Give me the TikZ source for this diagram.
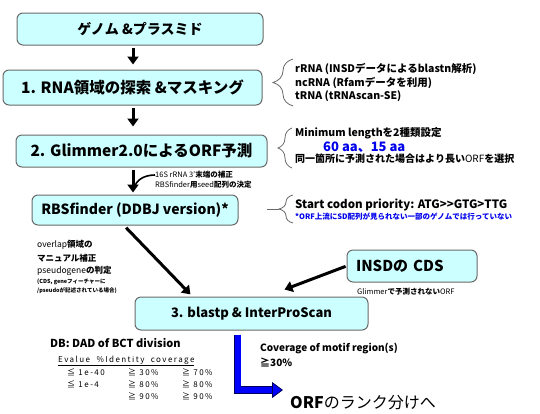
\documentclass[tikz,border=0pt]{standalone}
\usepackage{fontspec}
\setmainfont{Noto Sans CJK JP}
\usetikzlibrary{arrows.meta,decorations.pathreplacing,calc}
\definecolor{boxfill}{RGB}{204,255,255}
\definecolor{boxline}{RGB}{105,105,105}
\definecolor{notecol}{RGB}{0,0,235}
\newcommand{\fs}[1]{\fontsize{#1}{#1}\selectfont}
\tikzset{
  stepbox/.style={draw=boxline, line width=1pt, fill=boxfill, rounded corners=6pt, inner sep=2pt},
  arr/.style={-{Triangle[length=8pt,width=11pt]}, line width=3pt},
  bluearr/.style={draw=blue!35!black, line width=0.8pt, double=blue, double distance=6pt,
    -{Triangle[length=11pt,width=16pt,fill=blue]}},
  br/.style={decorate, decoration={brace, amplitude=#1}, draw=boxline, line width=0.8pt},
  note/.style={anchor=west, inner sep=0pt, align=left},
  tabtext/.style={note, font=\fs{8}\addfontfeature{LetterSpace=18}}
}

\begin{document}
\begin{tikzpicture}[x=1pt,y=-1pt]
\useasboundingbox (0,0) rectangle (540,413);

% Main steps
\node[stepbox, minimum width=246pt, minimum height=32pt, font=\fs{14}\bfseries] (genome) at (140,29) {ゲノム \&プラスミド};
\node[stepbox, minimum width=259pt, minimum height=35pt, font=\fs{15.5}\bfseries] (rna) at (132.5,87.5) {1. RNA領域の探索 \&マスキング};
\node[stepbox, minimum width=251pt, minimum height=32pt, font=\fs{15.5}\bfseries] (glim) at (141.5,151) {2. Glimmer2.0によるORF予測};
\node[stepbox, minimum width=206pt, minimum height=30pt, font=\fs{14}\bfseries] (rbs) at (135,210) {RBSfinder (DDBJ version)*};
\node[stepbox, minimum width=233pt, minimum height=33pt, font=\fs{13}\bfseries] (blast) at (251.5,313.5) {3. blastp \& InterProScan};
\node[stepbox, minimum width=130pt, minimum height=32pt, text width=112pt, align=left, font=\fs{15}\bfseries] (insd) at (412,266) {INSDの CDS};

% Down arrows
\coordinate (ax) at (133,0);
\draw[arr, shorten <=2pt, shorten >=5pt] (genome.south -| ax) -- (rna.north -| ax);
\draw[arr, shorten <=2pt, shorten >=8pt] (rna.south -| ax) -- (glim.north -| ax);
\draw[arr, shorten <=2pt, shorten >=2pt] (glim.south -| ax) -- (rbs.north -| ax);
\draw[arr, shorten <=3pt, shorten >=3pt] ([xshift=-11pt]rbs.south) -- ([xshift=-59pt]blast.north);
\draw[arr, shorten <=1pt] (insd.west) -- ([shift={(33pt,7pt)}]blast.north);

% RNA notes
\draw[br=20pt] (293,106) -- (293,59);
\node[note, font=\fs{10.5}\bfseries] (rrna) at (295,69) {rRNA (INSDデータによるblastn解析)};
\node[note, font=\fs{10.5}\bfseries] (ncrna) at (295,83) {ncRNA (Rfamデータを利用)};
\node[note, font=\fs{10.5}\bfseries] (trna) at (295,96) {tRNA (tRNAscan-SE)};

% Glimmer notes
\draw[br=14pt] (292,168) -- (292,128);
\node[note, font=\fs{10.5}\bfseries] (minlen) at (295,133) {Minimum lengthを2種類設定};
\node[note, font=\fs{13}\bfseries, text=notecol] (aa) at (323,147) {60 aa、15 aa};
\node[note, font=\fs{10}\bfseries] (longer) at (295,159) {同一箇所に予測された場合はより長い\textmd{ORF}を選択};

% seed label
\node[note, font=\fs{7.5}] (seedlbl) at (155,175) {16S rRNA 3'\textbf{末端の補正}};
\node[note, font=\fs{7.5}] (seedlbl2) at (155,185) {RBSfinder\textbf{用}seed\textbf{配列の決定}};
\draw[line width=1.6pt] (seedlbl.west) to[out=180,in=80] (134,189);

% RBSfinder notes
\draw[br=14pt] (293,223) -- (293,195);
\draw[boxline, line width=0.8pt] (279,209) -- (267,209);
\node[note, font=\fs{11.5}\bfseries] (codon) at (295,205) {Start codon priority: ATG{>}{>}GTG{>}TTG};
\node[note, font=\fs{7.5}\bfseries, text=notecol] (sdnote) at (295,217) {*ORF上流にSD配列が見られない一部のゲノムでは行っていない};

% overlap notes
\node[note, font=\fs{8.5}] (ovl1) at (37,245) {overlap\textbf{領域の}};
\node[note, font=\fs{8.5}\bfseries] (ovl2) at (37,258) {マニュアル補正};
\node[note, font=\fs{8.5}] (ovl3) at (37,271) {pseudogene\textbf{の判定}};
\node[note, font=\fs{5.5}\bfseries] (ovl4) at (37,282) {(CDS, geneフィーチャーに};
\node[note, font=\fs{5.5}\bfseries] (ovl5) at (37,291) {/pseudoが記述されている場合)};

% INSD note
\node[note, font=\fs{7.5}] (insdnote) at (357,292) {Glimmer\textbf{で予測されない}ORF};

% blastp output
\coordinate (rankin) at (283,390);
\draw[bluearr] ([xshift=-14pt, yshift=-4pt]blast.south) |- (rankin);
\node[note, font=\fs{10}\bfseries] (cov) at (260,348) {Coverage of motif region(s)};
\node[note, font=\fs{10}\bfseries] (cov2) at (260,362) {≧30\%};
\node[note, font=\fs{16}] (rank) at (290,403) {\textbf{ORF}のランク分けへ};

% DB table
\node[note, font=\fs{11}\bfseries] (db) at (50,343) {DB: DAD of BCT division};
\node[tabtext] (dbhead) at (58,361) {\underline{Evalue\ \ \%Identity\ \ coverage}};
\foreach \ev/\id/\cv [count=\i] in {≦ 1e-40/≧ 30\%/≧ 70\%, ≦ 1e-4/≧ 80\%/≧ 80\%, /≧ 90\%/≧ 90\%} {
  \node[tabtext] (ev\i) at (67,360+12*\i) {\ev};
  \node[tabtext] (id\i) at (128,360+12*\i) {\id};
  \node[tabtext] (cv\i) at (182,360+12*\i) {\cv};
}
\end{tikzpicture}
\end{document}
